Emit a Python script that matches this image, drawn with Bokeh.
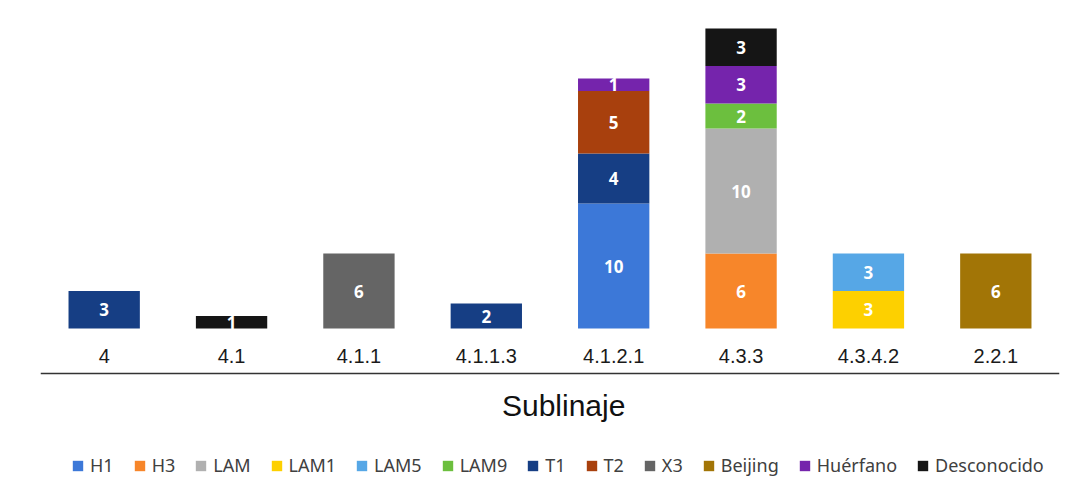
from bokeh.plotting import figure
from bokeh.models import (FactorRange, Range1d, Legend, LegendItem,
                          ColumnDataSource, Span)
from bokeh.core.properties import value
from bokeh.embed import file_html
from bokeh.resources import INLINE

categories = ["4", "4.1", "4.1.1", "4.1.1.3", "4.1.2.1", "4.3.3", "4.3.4.2", "2.2.1"]
series = ["H1", "H3", "LAM", "LAM1", "LAM5", "LAM9", "T1", "T2", "X3", "Beijing", "Huérfano", "Desconocido"]
H1          = [0, 0, 0, 0, 10, 0, 0, 0]
H3          = [0, 0, 0, 0, 0, 6, 0, 0]
LAM         = [0, 0, 0, 0, 0, 10, 0, 0]
LAM1        = [0, 0, 0, 0, 0, 0, 3, 0]
LAM5        = [0, 0, 0, 0, 0, 0, 3, 0]
LAM9        = [0, 0, 0, 0, 0, 2, 0, 0]
T1          = [3, 0, 0, 2, 4, 0, 0, 0]
T2          = [0, 0, 0, 0, 5, 0, 0, 0]
X3          = [0, 0, 6, 0, 0, 0, 0, 0]
Beijing     = [0, 0, 0, 0, 0, 0, 0, 6]
Huerfano    = [0, 0, 0, 0, 1, 3, 0, 0]
Desconocido = [0, 1, 0, 0, 0, 3, 0, 0]
values = [H1, H3, LAM, LAM1, LAM5, LAM9, T1, T2, X3, Beijing, Huerfano, Desconocido]
colors = ["#3c78d8", "#f7862a", "#b0b0b0", "#fdd000", "#56a7e6", "#6cbf3e",
          "#163e84", "#a8400d", "#656565", "#a27506", "#7524ac", "#151515"]
x_title = "Sublinaje"

keys = ["s%d" % i for i in range(len(series))]
data = {"cat": categories}
for k, v in zip(keys, values):
    data[k] = v
src = ColumnDataSource(data)

# 12.5 px per unit; baseline 328 px from top, 149 px below it
p = figure(x_range=FactorRange(factors=categories, range_padding=0),
           y_range=Range1d(-11.92, 26.24), width=1079, height=477,
           x_axis_type=None, y_axis_type=None,
           output_backend="svg", toolbar_location=None,
           min_border_left=40, min_border_right=20, min_border_top=0,
           min_border_bottom=0)
p.outline_line_color = None
p.background_fill_color = "white"
p.border_fill_color = "white"

rs = p.vbar_stack(keys, x="cat", width=0.56, source=src, color=colors, line_color=None)

# value labels
lx, ly, lt = [], [], []
for ci, c in enumerate(categories):
    base = 0
    for v in values:
        if v[ci] > 0:
            lx.append(c)
            ly.append(base + v[ci] / 2)
            lt.append(str(v[ci]))
        base += v[ci]
p.text(x=lx, y=ly, text=lt, text_color="white", text_font=value("Open Sans"),
       text_font_style="bold", text_font_size="17px", text_align="center",
       text_baseline="middle")

# category labels (axis)
p.text(x=categories, y=[-2.16] * len(categories), text=categories,
       text_color="#1a1a1a", text_font=value("Liberation Sans"),
       text_font_size="20px", text_align="center", text_baseline="middle")

# axis line below the labels
p.add_layout(Span(location=-3.6, dimension="width", line_color="#333333",
                  line_width=1.5))

# axis title
p.text(x=["4.1.2.1"], y=[-6.16], text=[x_title], x_offset=-50,
       text_color="#111111", text_font=value("Liberation Sans"),
       text_font_size="30px", text_align="center", text_baseline="middle")

items = [LegendItem(label=s, renderers=[r]) for s, r in zip(series, rs)]
leg = Legend(items=items, orientation="horizontal", location=(31, 0),
             glyph_width=13, glyph_height=13, label_standoff=6, spacing=19,
             label_text_font="Noto Sans", label_text_font_size="18px",
             label_text_color="#404040", border_line_color=None,
             background_fill_alpha=0, padding=3, margin=0)
p.add_layout(leg, "center")

open("out.html", "w").write(file_html(p, INLINE))
